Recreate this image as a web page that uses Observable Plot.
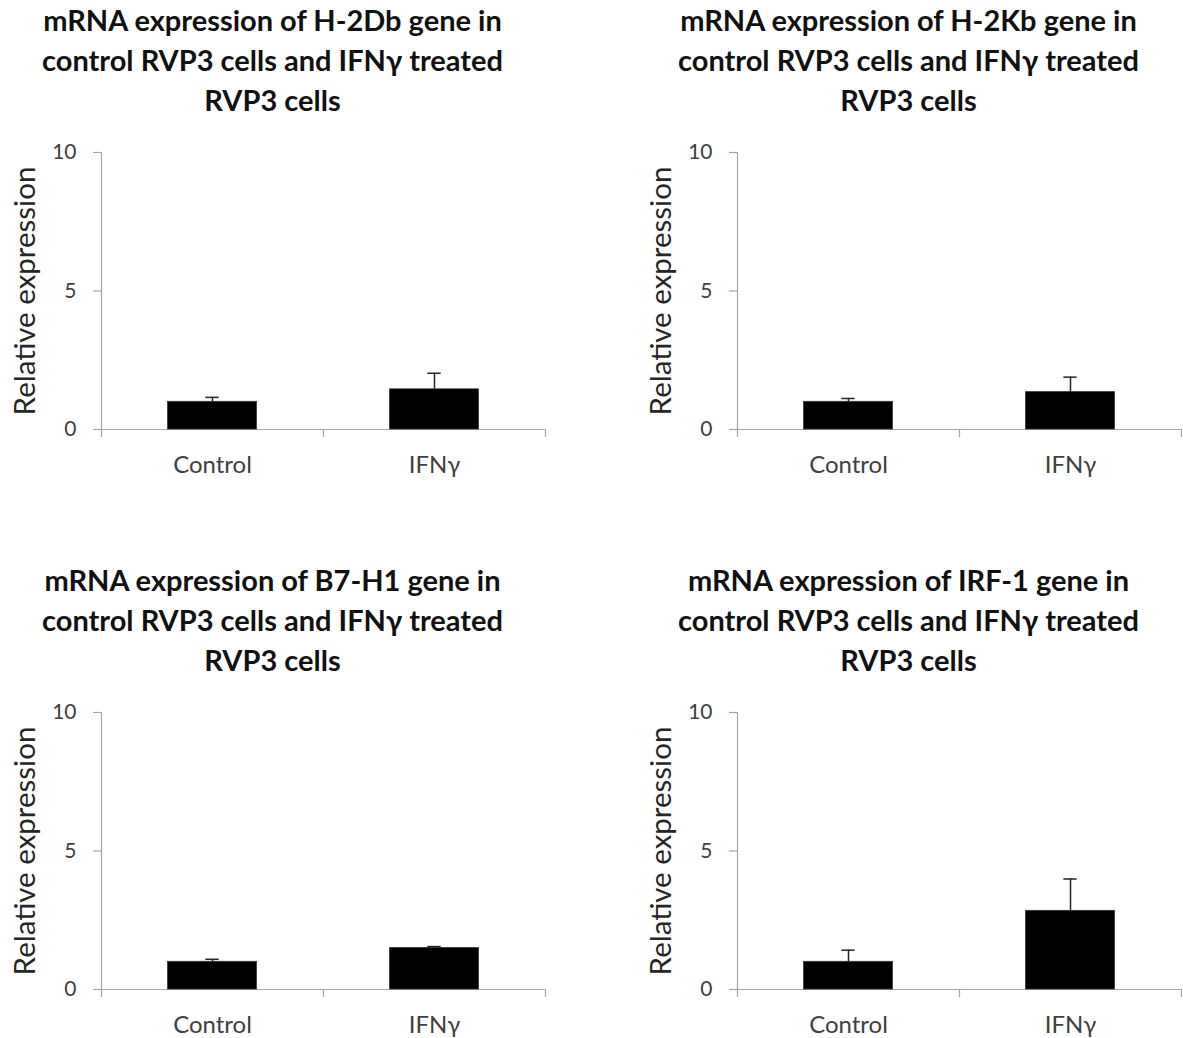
<!DOCTYPE html>
<html>
<head>
<meta charset="utf-8">
<script src="https://cdn.jsdelivr.net/npm/d3@7"></script>
<script src="https://cdn.jsdelivr.net/npm/@observablehq/plot@0.6"></script>
<style>
  html, body { margin: 0; padding: 0; background: #fff; }
  #root { position: relative; width: 1183px; height: 1038px; overflow: hidden; font-family: Lato, "Noto Sans", sans-serif; }
  .panel { position: absolute; width: 550px; height: 500px; }
  .title { position: absolute; left: 0; top: 0; width: 545px; text-align: center; font-weight: bold; font-size: 29px; line-height: 40px; color: #111; white-space: nowrap; }
</style>
</head>
<body>
<div id="root"></div>
<script>
// ---- data ----
const categories = ["Control", "IFNγ"];
const genes = ["H-2Db", "H-2Kb", "B7-H1", "IRF-1"];
const controlMean = [1.0, 1.0, 1.0, 1.0];
const controlErr  = [0.16, 0.12, 0.09, 0.42];
const ifnMean     = [1.45, 1.35, 1.5, 2.84];
const ifnErr      = [0.58, 0.54, 0.05, 1.15];
const yTicks = [0, 5, 10];
const yLabel = "Relative expression";

// ---- layout ----
const panelLeft = [0, 636, 0, 636];
const panelTop  = [0, 0, 560, 560];
const axisGray = "#a6a6a6";
const textGray = "#404040";

const root = document.getElementById("root");

genes.forEach((gene, g) => {
  const panel = document.createElement("div");
  panel.className = "panel";
  panel.style.left = panelLeft[g] + "px";
  panel.style.top = panelTop[g] + "px";

  const title = document.createElement("div");
  title.className = "title";
  title.innerHTML = `mRNA expression of ${gene} gene in<br>control RVP3 cells and IFNγ treated<br>RVP3 cells`;
  panel.appendChild(title);

  const rows = categories.map((c, i) => ({
    category: c,
    index: i,
    mean: i === 0 ? controlMean[g] : ifnMean[g],
    err: i === 0 ? controlErr[g] : ifnErr[g]
  }));

  const chart = Plot.plot({
    width: 550,
    height: 350,
    marginLeft: 101,
    marginRight: 5,
    marginTop: 12,
    marginBottom: 61,
    style: { fontFamily: "Lato, 'Noto Sans', sans-serif", background: "transparent", overflow: "visible" },
    x: { type: "linear", domain: [0, categories.length] },
    y: { domain: [0, 10] },
    marks: [
      // y axis line
      Plot.ruleX([0], { stroke: axisGray, strokeWidth: 1.2 }),
      // x axis line
      Plot.ruleY([0], { stroke: axisGray, strokeWidth: 1.2 }),
      // y tick marks
      Plot.axisY({ ticks: yTicks, tickSize: 8, tickFormat: () => "", stroke: axisGray, strokeWidth: 1.2, label: null }),
      // y tick labels
      Plot.axisY({ ticks: yTicks, tickSize: 0, tickPadding: 25, fontSize: 21, fill: textGray, label: null }),
      // y axis title
      Plot.text([yLabel], { frameAnchor: "left", textAnchor: "middle", dx: -76, rotate: -90, fontSize: 29.5, fill: "#262626" }),
      // x category separator ticks
      Plot.axisX({ ticks: d3.range(categories.length + 1), tickSize: 8, tickFormat: () => "", stroke: axisGray, strokeWidth: 1.2, label: null }),
      // x category labels
      Plot.axisX({
        ticks: categories.map((c, i) => i + 0.5), tickSize: 0, tickPadding: 26, fontSize: 24, fill: textGray,
        tickFormat: d => categories[Math.floor(d)], label: null
      }),
      // bars
      Plot.rectY(rows, { x1: d => d.index + 0.3, x2: d => d.index + 0.7, y1: 0, y2: "mean", fill: "#000", stroke: "#333", strokeWidth: 0.8 }),
      // error bars (upper only)
      Plot.ruleX(rows, { x: d => d.index + 0.5, y1: "mean", y2: d => d.mean + d.err, stroke: "#222", strokeWidth: 1.5 }),
      Plot.ruleY(rows, { y: d => d.mean + d.err, x1: d => d.index + 0.47, x2: d => d.index + 0.53, stroke: "#222", strokeWidth: 1.5 })
    ]
  });
  chart.style.position = "absolute";
  chart.style.left = "0px";
  chart.style.top = "140px";
  panel.appendChild(chart);
  root.appendChild(panel);
});
</script>
</body>
</html>
